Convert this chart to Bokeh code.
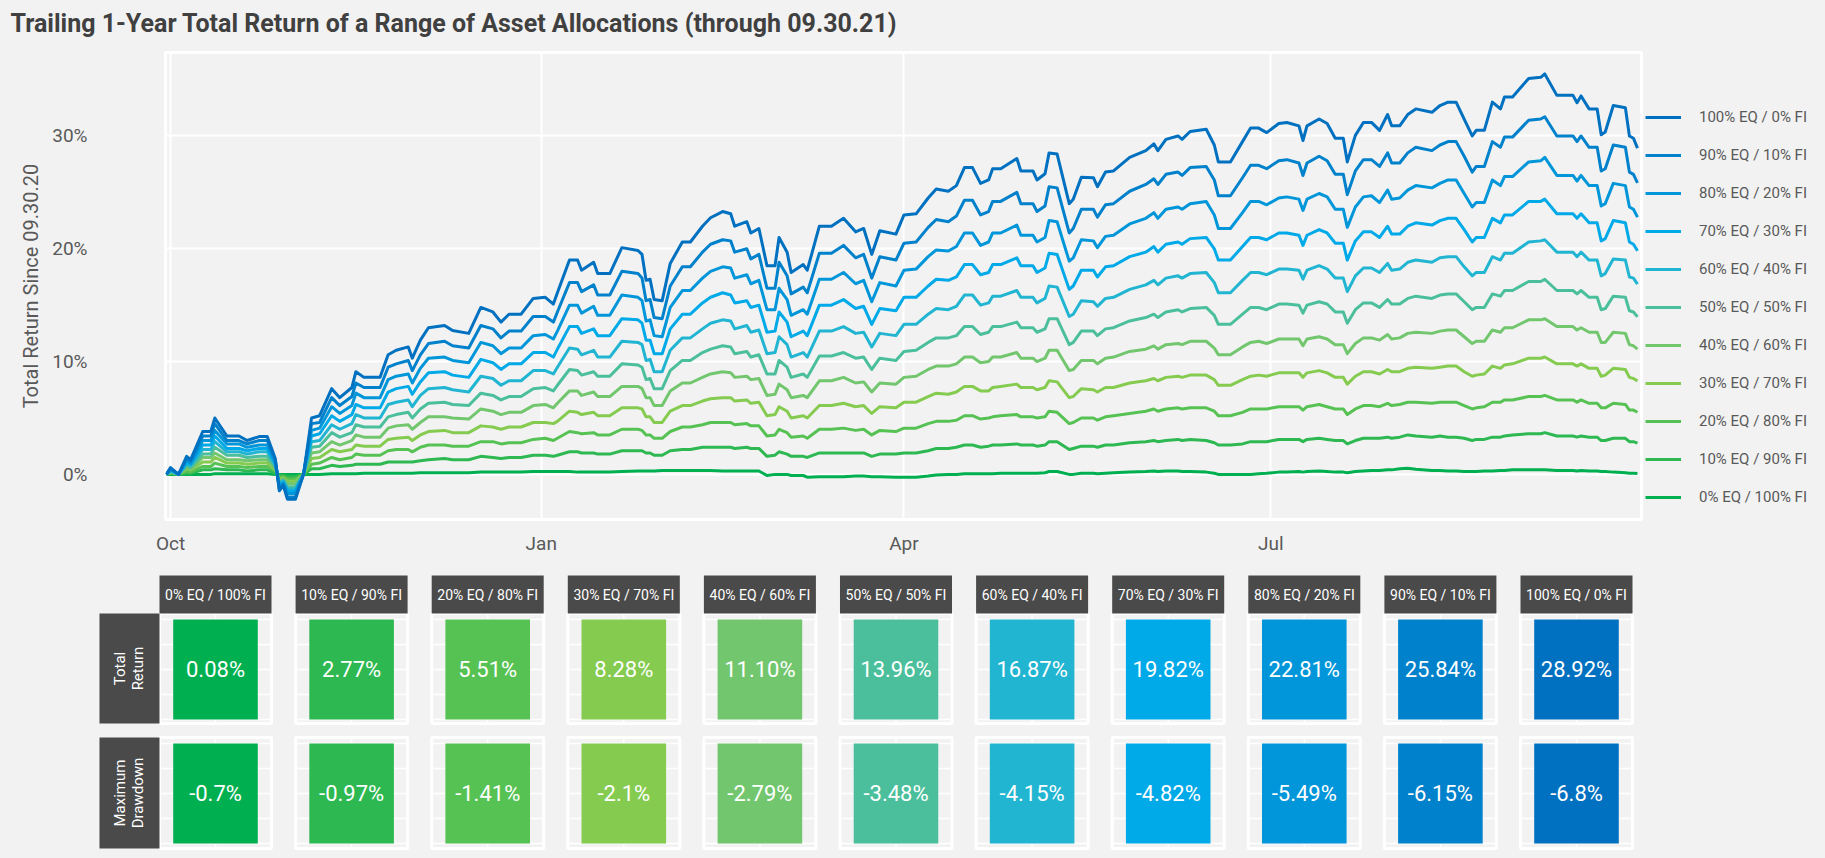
import pandas as pd
from bokeh.plotting import figure
from bokeh.layouts import column, row
from bokeh.models import (Range1d, FixedTicker, DatetimeTickFormatter, PrintfTickFormatter,
                          Legend, LegendItem)
from bokeh.core.properties import value
from bokeh.embed import file_html
from bokeh.resources import INLINE
import math

# ---------------- data ----------------
TITLE = "Trailing 1-Year Total Return of a Range of Asset Allocations (through 09.30.21)"
Y_LABEL = "Total Return Since 09.30.20"
START = "2020-10-01"
X_TICKS = ["2020-10-01", "2021-01-01", "2021-04-01", "2021-07-01"]
Y_TICKS = [0, 10, 20, 30]

DAY = [-1, 0, 2, 4, 5, 8, 10, 11, 14, 17,
       19, 22, 24, 26, 27, 28, 29, 31, 33, 35,
       37, 40, 42, 45, 46, 48, 52, 54, 56, 59,
       60, 62, 64, 68, 70, 74, 77, 80, 82, 84,
       87, 90, 93, 95, 96, 99, 101, 102, 105, 106,
       109, 112, 116, 117, 118, 119, 120, 122, 124, 127,
       129, 132, 134, 137, 139, 140, 143, 144, 146, 148,
       150, 151, 153, 154, 157, 158, 161, 164, 167, 170,
       172, 174, 176, 180, 182, 185, 188, 190, 193, 195,
       197, 199, 201, 203, 204, 206, 210, 211, 214, 215,
       217, 218, 220, 223, 224, 226, 229, 230, 232, 234,
       238, 242, 244, 245, 247, 250, 251, 253, 257, 259,
       260, 263, 266, 268, 270, 272, 275, 277, 280, 281,
       282, 285, 287, 289, 291, 292, 294, 296, 298, 300,
       302, 303, 305, 307, 309, 313, 315, 317, 319, 321,
       323, 324, 326, 328, 330, 331, 333, 337, 340, 341,
       344, 348, 349, 350, 352, 354, 355, 356, 358, 361,
       362, 363, 364]

S100 = [0.0, 0.6, 0.0, 1.6, 1.3, 3.8, 3.8, 5.0, 3.4, 3.4,
        3.0, 3.35, 3.35, 1.4, -1.45, -1.0, -2.2, -2.2, 0.0, 5.0,
        5.2, 7.6, 6.8, 7.7, 9.1, 8.6, 8.6, 10.6, 11.0, 11.3,
        10.3, 11.9, 13.0, 13.2, 12.75, 12.5, 14.8, 14.4, 13.5, 14.2,
        14.2, 15.6, 15.7, 15.1, 16.1, 19.0, 19.0, 18.1, 18.8, 17.8,
        17.8, 20.1, 19.85, 19.5, 17.2, 17.3, 15.5, 15.4, 18.7, 20.6,
        20.6, 22.0, 22.75, 23.3, 23.1, 22.0, 22.4, 21.4, 21.8, 18.5,
        18.5, 21.0, 19.7, 17.9, 18.6, 18.1, 22.0, 22.0, 22.7, 21.5,
        21.8, 19.5, 21.6, 21.3, 23.0, 23.1, 24.5, 25.3, 25.1, 25.6,
        27.2, 27.2, 25.8, 26.1, 27.1, 27.1, 28.0, 26.9, 26.9, 26.1,
        26.65, 28.5, 28.4, 24.0, 24.4, 26.35, 26.3, 25.5, 26.8, 26.9,
        28.1, 28.7, 29.3, 28.7, 29.7, 30.0, 29.7, 30.4, 30.6, 29.2,
        27.7, 27.7, 29.5, 30.7, 30.7, 30.3, 31.1, 31.2, 30.9, 29.6,
        30.9, 31.5, 31.1, 29.8, 29.8, 27.7, 30.05, 31.2, 31.2, 30.5,
        31.9, 30.9, 30.9, 31.9, 32.4, 32.1, 32.7, 33.0, 33.0, 31.5,
        30.0, 30.5, 30.5, 33.0, 32.4, 33.45, 33.45, 35.1, 35.2, 35.5,
        33.6, 33.6, 32.95, 33.55, 32.4, 32.4, 30.1, 30.35, 32.7, 32.5,
        30.0, 29.8, 28.92]

S90 = [0.0, 0.5, 0.0, 1.4, 1.2, 3.4, 3.4, 4.5, 3.0, 3.0,
       2.7, 3.0, 3.0, 1.3, -1.3, -0.9, -2.0, -2.0, 0.0, 4.5,
       4.6, 6.8, 6.1, 6.9, 8.1, 7.7, 7.7, 9.5, 9.8, 10.1,
       9.2, 10.6, 11.6, 11.8, 11.4, 11.2, 13.2, 12.9, 12.1, 12.7,
       12.7, 14.0, 14.0, 13.5, 14.4, 17.0, 17.0, 16.2, 16.8, 15.9,
       15.9, 18.0, 17.8, 17.4, 15.4, 15.5, 13.9, 13.8, 16.7, 18.4,
       18.4, 19.7, 20.4, 20.8, 20.7, 19.7, 20.0, 19.1, 19.5, 16.5,
       16.5, 18.8, 17.6, 16.0, 16.6, 16.1, 19.6, 19.6, 20.3, 19.2,
       19.5, 17.4, 19.3, 19.0, 20.5, 20.6, 21.9, 22.6, 22.4, 22.9,
       24.3, 24.3, 23.0, 23.3, 24.2, 24.2, 25.0, 24.0, 24.0, 23.3,
       23.8, 25.5, 25.4, 21.4, 21.8, 23.5, 23.5, 22.8, 23.9, 24.0,
       25.1, 25.7, 26.2, 25.7, 26.6, 26.8, 26.5, 27.2, 27.3, 26.1,
       24.7, 24.7, 26.3, 27.4, 27.4, 27.1, 27.8, 27.9, 27.6, 26.5,
       27.6, 28.2, 27.8, 26.6, 26.6, 24.8, 26.9, 27.9, 27.9, 27.3,
       28.5, 27.6, 27.6, 28.5, 29.0, 28.7, 29.2, 29.5, 29.5, 28.2,
       26.8, 27.3, 27.3, 29.5, 29.0, 29.9, 29.9, 31.4, 31.5, 31.7,
       30.0, 30.0, 29.5, 30.0, 29.0, 29.0, 26.9, 27.1, 29.2, 29.0,
       26.8, 26.6, 25.84]

S80 = [0.0, 0.5, 0.0, 1.3, 1.0, 3.0, 3.0, 3.9, 2.7, 2.7,
       2.4, 2.6, 2.6, 1.1, -1.1, -0.8, -1.7, -1.7, 0.0, 3.9,
       4.1, 6.0, 5.4, 6.1, 7.2, 6.8, 6.8, 8.4, 8.7, 8.9,
       8.1, 9.4, 10.3, 10.4, 10.1, 9.9, 11.7, 11.4, 10.7, 11.2,
       11.2, 12.3, 12.4, 12.0, 12.7, 15.0, 15.0, 14.3, 14.9, 14.1,
       14.1, 15.9, 15.7, 15.4, 13.6, 13.7, 12.3, 12.2, 14.8, 16.3,
       16.3, 17.4, 18.0, 18.4, 18.3, 17.4, 17.7, 16.9, 17.2, 14.6,
       14.6, 16.5, 15.5, 14.1, 14.6, 14.2, 17.3, 17.3, 17.9, 16.9,
       17.2, 15.3, 17.0, 16.7, 18.1, 18.2, 19.3, 19.9, 19.8, 20.2,
       21.4, 21.4, 20.3, 20.6, 21.4, 21.4, 22.1, 21.2, 21.2, 20.6,
       21.0, 22.5, 22.4, 18.9, 19.2, 20.8, 20.7, 20.1, 21.1, 21.2,
       22.2, 22.7, 23.2, 22.7, 23.5, 23.7, 23.5, 24.0, 24.2, 23.0,
       21.8, 21.8, 23.2, 24.2, 24.2, 23.9, 24.5, 24.6, 24.4, 23.4,
       24.4, 24.9, 24.6, 23.5, 23.5, 21.9, 23.7, 24.6, 24.7, 24.1,
       25.2, 24.4, 24.5, 25.2, 25.6, 25.4, 25.8, 26.1, 26.1, 24.9,
       23.7, 24.1, 24.1, 26.1, 25.6, 26.4, 26.4, 27.7, 27.8, 28.1,
       26.5, 26.5, 26.0, 26.5, 25.6, 25.6, 23.8, 24.0, 25.8, 25.6,
       23.7, 23.5, 22.81]

S70 = [0.0, 0.4, 0.0, 1.1, 0.9, 2.6, 2.6, 3.4, 2.3, 2.3,
       2.1, 2.3, 2.3, 1.0, -1.0, -0.7, -1.5, -1.5, 0.0, 3.4,
       3.6, 5.2, 4.7, 5.3, 6.2, 5.9, 5.9, 7.3, 7.6, 7.8,
       7.1, 8.2, 9.0, 9.1, 8.8, 8.6, 10.2, 9.9, 9.3, 9.8,
       9.8, 10.8, 10.8, 10.4, 11.1, 13.1, 13.1, 12.5, 12.9, 12.3,
       12.3, 13.8, 13.7, 13.4, 11.9, 11.9, 10.7, 10.7, 12.9, 14.2,
       14.2, 15.2, 15.7, 16.1, 15.9, 15.2, 15.4, 14.8, 15.0, 12.6,
       12.7, 14.4, 13.5, 12.2, 12.7, 12.3, 15.0, 15.0, 15.5, 14.7,
       14.9, 13.3, 14.7, 14.5, 15.7, 15.7, 16.7, 17.3, 17.2, 17.5,
       18.6, 18.6, 17.7, 17.9, 18.6, 18.6, 19.2, 18.5, 18.5, 17.9,
       18.3, 19.6, 19.5, 16.4, 16.7, 18.1, 18.1, 17.5, 18.4, 18.5,
       19.3, 19.7, 20.2, 19.7, 20.4, 20.6, 20.4, 20.9, 21.0, 20.0,
       19.0, 19.0, 20.2, 21.0, 21.0, 20.8, 21.4, 21.4, 21.2, 20.3,
       21.2, 21.7, 21.4, 20.5, 20.5, 19.0, 20.7, 21.5, 21.5, 21.0,
       22.0, 21.3, 21.3, 22.0, 22.3, 22.1, 22.5, 22.7, 22.7, 21.7,
       20.6, 21.0, 21.0, 22.7, 22.3, 23.0, 23.0, 24.2, 24.2, 24.4,
       23.1, 23.1, 22.7, 23.1, 22.3, 22.3, 20.7, 20.9, 22.5, 22.3,
       20.6, 20.4, 19.82]

S60 = [0.0, 0.3, 0.0, 0.9, 0.8, 2.2, 2.2, 2.9, 2.0, 2.0,
       1.8, 2.0, 2.0, 0.8, -0.8, -0.6, -1.3, -1.3, 0.0, 2.9,
       3.0, 4.4, 4.0, 4.5, 5.3, 5.0, 5.0, 6.2, 6.4, 6.6,
       6.0, 7.0, 7.6, 7.7, 7.5, 7.3, 8.7, 8.5, 7.9, 8.3,
       8.3, 9.2, 9.2, 8.9, 9.5, 11.2, 11.1, 10.6, 11.0, 10.4,
       10.4, 11.8, 11.7, 11.5, 10.1, 10.2, 9.1, 9.1, 11.0, 12.1,
       12.1, 12.9, 13.4, 13.7, 13.6, 12.9, 13.2, 12.6, 12.8, 10.7,
       10.8, 12.2, 11.5, 10.4, 10.8, 10.4, 12.7, 12.7, 13.1, 12.5,
       12.6, 11.3, 12.5, 12.3, 13.3, 13.3, 14.2, 14.7, 14.6, 14.9,
       15.9, 15.9, 15.0, 15.2, 15.8, 15.8, 16.3, 15.7, 15.7, 15.2,
       15.6, 16.7, 16.6, 14.0, 14.2, 15.4, 15.3, 14.9, 15.6, 15.7,
       16.4, 16.8, 17.2, 16.8, 17.4, 17.6, 17.4, 17.8, 17.9, 17.0,
       16.1, 16.1, 17.2, 17.9, 17.9, 17.7, 18.2, 18.2, 18.1, 17.3,
       18.1, 18.5, 18.2, 17.4, 17.4, 16.2, 17.6, 18.3, 18.3, 17.9,
       18.7, 18.1, 18.2, 18.8, 19.0, 18.8, 19.2, 19.3, 19.3, 18.4,
       17.6, 17.9, 17.9, 19.3, 19.0, 19.6, 19.6, 20.6, 20.7, 20.8,
       19.7, 19.7, 19.3, 19.7, 19.0, 19.0, 17.6, 17.8, 19.1, 19.0,
       17.5, 17.4, 16.87]

S50 = [0.0, 0.3, 0.0, 0.8, 0.6, 1.8, 1.8, 2.4, 1.7, 1.7,
       1.5, 1.6, 1.6, 0.7, -0.7, -0.5, -1.1, -1.1, 0.0, 2.4,
       2.5, 3.7, 3.3, 3.7, 4.4, 4.2, 4.2, 5.1, 5.3, 5.5,
       5.0, 5.8, 6.3, 6.4, 6.2, 6.1, 7.2, 7.0, 6.6, 6.9,
       6.9, 7.6, 7.7, 7.4, 7.9, 9.3, 9.2, 8.8, 9.1, 8.7,
       8.7, 9.8, 9.7, 9.5, 8.4, 8.5, 7.6, 7.6, 9.2, 10.1,
       10.1, 10.8, 11.1, 11.4, 11.3, 10.7, 10.9, 10.4, 10.6, 8.9,
       8.9, 10.1, 9.5, 8.6, 8.9, 8.6, 10.5, 10.5, 10.8, 10.3,
       10.4, 9.3, 10.3, 10.1, 10.9, 11.0, 11.7, 12.1, 12.1, 12.3,
       13.1, 13.1, 12.4, 12.6, 13.1, 13.1, 13.5, 13.0, 13.0, 12.6,
       12.9, 13.8, 13.8, 11.5, 11.7, 12.7, 12.7, 12.3, 12.9, 13.0,
       13.6, 13.9, 14.2, 13.9, 14.4, 14.6, 14.4, 14.7, 14.8, 14.1,
       13.3, 13.3, 14.2, 14.8, 14.8, 14.6, 15.1, 15.1, 15.0, 14.3,
       15.0, 15.3, 15.1, 14.4, 14.4, 13.4, 14.6, 15.2, 15.2, 14.8,
       15.5, 15.1, 15.1, 15.6, 15.8, 15.6, 15.9, 16.0, 16.0, 15.3,
       14.6, 14.8, 14.8, 16.0, 15.8, 16.3, 16.3, 17.1, 17.1, 17.3,
       16.3, 16.3, 16.0, 16.3, 15.7, 15.7, 14.6, 14.7, 15.8, 15.7,
       14.5, 14.4, 13.96]

S40 = [0.0, 0.2, 0.0, 0.6, 0.5, 1.5, 1.5, 1.9, 1.3, 1.3,
       1.2, 1.3, 1.3, 0.5, -0.6, -0.4, -0.8, -0.8, 0.0, 1.9,
       2.0, 2.9, 2.6, 3.0, 3.5, 3.3, 3.3, 4.1, 4.3, 4.4,
       4.0, 4.6, 5.1, 5.1, 5.0, 4.9, 5.8, 5.6, 5.3, 5.5,
       5.5, 6.1, 6.2, 5.9, 6.3, 7.4, 7.4, 7.0, 7.3, 6.9,
       6.9, 7.8, 7.8, 7.6, 6.8, 6.8, 6.1, 6.1, 7.4, 8.1,
       8.1, 8.6, 8.9, 9.1, 9.0, 8.6, 8.7, 8.4, 8.5, 7.0,
       7.1, 8.0, 7.5, 6.8, 7.0, 6.8, 8.3, 8.3, 8.6, 8.1,
       8.2, 7.3, 8.1, 8.0, 8.6, 8.7, 9.3, 9.6, 9.6, 9.8,
       10.4, 10.4, 9.9, 10.0, 10.4, 10.4, 10.8, 10.3, 10.3, 10.0,
       10.3, 11.0, 11.0, 9.2, 9.3, 10.1, 10.1, 9.8, 10.3, 10.4,
       10.9, 11.1, 11.4, 11.1, 11.5, 11.6, 11.5, 11.8, 11.8, 11.2,
       10.6, 10.6, 11.3, 11.7, 11.8, 11.6, 12.0, 12.0, 12.0, 11.4,
       12.0, 12.2, 12.0, 11.5, 11.5, 10.7, 11.6, 12.1, 12.1, 11.9,
       12.4, 12.0, 12.1, 12.5, 12.6, 12.5, 12.7, 12.8, 12.8, 12.2,
       11.6, 11.8, 11.8, 12.8, 12.6, 13.0, 13.0, 13.7, 13.7, 13.8,
       13.1, 13.1, 12.8, 13.0, 12.6, 12.6, 11.7, 11.7, 12.6, 12.5,
       11.5, 11.4, 11.10]

S30 = [0.0, 0.2, 0.0, 0.5, 0.4, 1.1, 1.1, 1.5, 1.0, 1.0,
       0.9, 1.0, 1.0, 0.4, -0.4, -0.3, -0.6, -0.6, 0.0, 1.4,
       1.5, 2.2, 2.0, 2.2, 2.6, 2.5, 2.5, 3.1, 3.2, 3.3,
       3.0, 3.5, 3.8, 3.9, 3.7, 3.7, 4.3, 4.2, 4.0, 4.2,
       4.2, 4.6, 4.6, 4.5, 4.7, 5.6, 5.5, 5.3, 5.5, 5.2,
       5.2, 5.9, 5.9, 5.8, 5.1, 5.1, 4.6, 4.6, 5.6, 6.1,
       6.1, 6.5, 6.7, 6.8, 6.8, 6.5, 6.6, 6.3, 6.4, 5.2,
       5.3, 6.0, 5.6, 5.0, 5.2, 5.0, 6.1, 6.1, 6.3, 6.0,
       6.1, 5.4, 6.0, 5.9, 6.4, 6.4, 6.9, 7.2, 7.1, 7.3,
       7.8, 7.8, 7.4, 7.4, 7.7, 7.8, 8.0, 7.7, 7.7, 7.5,
       7.7, 8.3, 8.2, 6.8, 6.9, 7.6, 7.5, 7.3, 7.7, 7.7,
       8.1, 8.3, 8.5, 8.3, 8.6, 8.7, 8.6, 8.8, 8.8, 8.4,
       7.9, 7.9, 8.4, 8.7, 8.8, 8.7, 9.0, 9.0, 9.0, 8.6,
       9.0, 9.2, 9.0, 8.6, 8.6, 8.0, 8.7, 9.1, 9.1, 8.9,
       9.3, 9.1, 9.1, 9.4, 9.5, 9.4, 9.5, 9.6, 9.6, 9.1,
       8.7, 8.8, 8.9, 9.6, 9.4, 9.7, 9.8, 10.3, 10.3, 10.4,
       9.8, 9.8, 9.6, 9.8, 9.4, 9.4, 8.7, 8.8, 9.4, 9.3,
       8.6, 8.5, 8.28]

S20 = [0.0, 0.1, 0.0, 0.3, 0.2, 0.7, 0.7, 1.0, 0.7, 0.7,
       0.6, 0.7, 0.7, 0.3, -0.3, -0.2, -0.4, -0.4, 0.0, 0.9,
       1.0, 1.5, 1.3, 1.5, 1.8, 1.7, 1.7, 2.1, 2.2, 2.2,
       2.0, 2.4, 2.6, 2.6, 2.5, 2.5, 2.9, 2.9, 2.7, 2.8,
       2.8, 3.1, 3.2, 3.0, 3.2, 3.8, 3.7, 3.6, 3.7, 3.5,
       3.5, 4.0, 4.0, 3.9, 3.5, 3.5, 3.2, 3.2, 3.8, 4.2,
       4.2, 4.4, 4.6, 4.6, 4.6, 4.4, 4.5, 4.3, 4.3, 3.4,
       3.5, 4.0, 3.7, 3.3, 3.4, 3.2, 4.0, 4.0, 4.1, 3.9,
       4.0, 3.5, 3.9, 3.8, 4.1, 4.1, 4.5, 4.7, 4.7, 4.8,
       5.2, 5.2, 4.9, 5.0, 5.1, 5.2, 5.3, 5.1, 5.1, 5.0,
       5.1, 5.6, 5.5, 4.5, 4.6, 5.0, 5.0, 4.8, 5.1, 5.2,
       5.4, 5.6, 5.8, 5.6, 5.8, 5.9, 5.8, 5.9, 5.9, 5.6,
       5.2, 5.2, 5.5, 5.8, 5.8, 5.8, 6.0, 6.0, 6.0, 5.7,
       6.0, 6.2, 6.0, 5.8, 5.8, 5.3, 5.8, 6.1, 6.1, 6.0,
       6.3, 6.1, 6.2, 6.4, 6.4, 6.3, 6.4, 6.4, 6.4, 6.1,
       5.8, 5.9, 6.0, 6.4, 6.4, 6.6, 6.6, 6.9, 6.9, 7.0,
       6.6, 6.6, 6.4, 6.6, 6.3, 6.3, 5.9, 5.9, 6.3, 6.2,
       5.7, 5.7, 5.51]

S10 = [0.0, 0.1, 0.0, 0.1, 0.1, 0.4, 0.4, 0.5, 0.4, 0.4,
       0.3, 0.4, 0.4, 0.1, -0.1, -0.1, -0.2, -0.2, 0.0, 0.5,
       0.5, 0.8, 0.7, 0.8, 0.9, 0.9, 0.9, 1.1, 1.1, 1.1,
       1.1, 1.2, 1.3, 1.4, 1.3, 1.3, 1.6, 1.5, 1.4, 1.5,
       1.5, 1.7, 1.7, 1.6, 1.7, 2.0, 2.0, 1.9, 1.9, 1.8,
       1.8, 2.1, 2.1, 2.1, 1.9, 1.9, 1.7, 1.7, 2.1, 2.2,
       2.2, 2.4, 2.4, 2.4, 2.4, 2.3, 2.4, 2.3, 2.3, 1.6,
       1.7, 2.0, 1.8, 1.6, 1.6, 1.5, 1.9, 1.9, 1.9, 1.9,
       1.9, 1.6, 1.8, 1.8, 1.9, 1.9, 2.1, 2.3, 2.3, 2.4,
       2.6, 2.6, 2.4, 2.5, 2.6, 2.6, 2.7, 2.6, 2.6, 2.5,
       2.6, 2.9, 2.9, 2.2, 2.3, 2.5, 2.5, 2.4, 2.6, 2.6,
       2.8, 2.9, 3.0, 2.9, 3.0, 3.1, 3.0, 3.1, 3.0, 2.8,
       2.6, 2.6, 2.7, 2.9, 2.9, 2.9, 3.1, 3.1, 3.1, 2.9,
       3.1, 3.2, 3.1, 3.0, 3.0, 2.7, 3.0, 3.2, 3.2, 3.2,
       3.3, 3.2, 3.3, 3.5, 3.4, 3.3, 3.4, 3.3, 3.3, 3.2,
       3.0, 3.1, 3.1, 3.3, 3.3, 3.4, 3.5, 3.6, 3.6, 3.7,
       3.4, 3.4, 3.3, 3.4, 3.3, 3.3, 3.0, 3.0, 3.2, 3.2,
       2.9, 2.9, 2.77]

S0 = [0.0, 0.0, 0.0, 0.0, 0.0, 0.0, 0.0, 0.05, 0.05, 0.05,
      0.05, 0.05, 0.05, 0.0, 0.0, 0.0, 0.0, 0.0, 0.0, 0.0,
      0.0, 0.05, 0.05, 0.05, 0.05, 0.1, 0.1, 0.1, 0.1, 0.1,
      0.1, 0.15, 0.15, 0.15, 0.15, 0.15, 0.2, 0.2, 0.2, 0.2,
      0.2, 0.25, 0.25, 0.25, 0.25, 0.25, 0.2, 0.2, 0.2, 0.2,
      0.2, 0.25, 0.3, 0.3, 0.3, 0.3, 0.3, 0.35, 0.35, 0.35,
      0.35, 0.35, 0.35, 0.3, 0.3, 0.3, 0.3, 0.3, 0.3, -0.1,
      0.0, 0.0, 0.0, -0.1, -0.1, -0.25, -0.2, -0.2, -0.2, -0.15,
      -0.15, -0.2, -0.2, -0.25, -0.25, -0.25, -0.15, -0.05, 0.0, 0.0,
      0.05, 0.05, 0.05, 0.05, 0.05, 0.1, 0.1, 0.1, 0.1, 0.1,
      0.15, 0.25, 0.25, 0.0, 0.0, 0.1, 0.1, 0.05, 0.1, 0.15,
      0.2, 0.25, 0.3, 0.25, 0.3, 0.3, 0.25, 0.25, 0.2, 0.1,
      0.0, 0.0, 0.0, 0.0, 0.05, 0.1, 0.2, 0.2, 0.25, 0.2,
      0.25, 0.3, 0.25, 0.2, 0.2, 0.15, 0.25, 0.3, 0.35, 0.35,
      0.4, 0.4, 0.5, 0.55, 0.45, 0.35, 0.35, 0.3, 0.3, 0.25,
      0.25, 0.25, 0.3, 0.3, 0.35, 0.35, 0.4, 0.4, 0.4, 0.4,
      0.35, 0.35, 0.3, 0.35, 0.3, 0.3, 0.25, 0.25, 0.2, 0.15,
      0.1, 0.1, 0.08]

ALLOC = ["0% EQ / 100% FI", "10% EQ / 90% FI", "20% EQ / 80% FI", "30% EQ / 70% FI",
         "40% EQ / 60% FI", "50% EQ / 50% FI", "60% EQ / 40% FI", "70% EQ / 30% FI",
         "80% EQ / 20% FI", "90% EQ / 10% FI", "100% EQ / 0% FI"]
SERIES = [S0, S10, S20, S30, S40, S50, S60, S70, S80, S90, S100]
TOTAL_RETURN = [0.08, 2.77, 5.51, 8.28, 11.10, 13.96, 16.87, 19.82, 22.81, 25.84, 28.92]
MAX_DRAWDOWN = [-0.7, -0.97, -1.41, -2.1, -2.79, -3.48, -4.15, -4.82, -5.49, -6.15, -6.8]
ROW_LABELS = ["Total\nReturn", "Maximum\nDrawdown"]
COLORS = ["#00B050", "#2DB851", "#57C254", "#84CB50", "#72C66E", "#4BBF9C",
          "#21B5D2", "#00A9E7", "#0096D9", "#0081CB", "#0070C0"]

# ---------------- styling ----------------
FONT = "Roboto"
BG = "#f2f2f2"
DARK = "#4a4a4a"
GREY_TXT = "#595959"
PAGE_W = 1817

start = pd.Timestamp(START)
dates = [start + pd.Timedelta(days=d) for d in DAY]

def ms(ts):
    return pd.Timestamp(ts).value / 1e6

# ---------------- title strip ----------------
pT = figure(width=PAGE_W, height=48, frame_width=PAGE_W, frame_height=48,
            x_range=Range1d(0, PAGE_W), y_range=Range1d(48, 0), min_border=0,
            min_border_left=0, min_border_right=0, min_border_top=0, min_border_bottom=0,
            output_backend="svg", toolbar_location=None)
pT.axis.visible = False
pT.grid.visible = False
pT.outline_line_color = None
pT.background_fill_color = BG
pT.border_fill_color = BG
pT.text(x=[10], y=[23], text=[TITLE], text_baseline="alphabetic", text_align="left",
        text_font=value(FONT), text_font_size="25px", text_font_style="bold", text_color="#404040")

# ---------------- line chart ----------------
pA = figure(width=PAGE_W, height=510, frame_width=1476, frame_height=467,
            x_axis_type="datetime",
            x_range=Range1d(ms(start - pd.Timedelta(days=1.24)), ms(start + pd.Timedelta(days=365))),
            y_range=Range1d(-4.0, 37.4),
            min_border_left=165, min_border_right=PAGE_W - 165 - 1476, min_border_top=4, min_border_bottom=39,
            output_backend="svg", toolbar_location=None)
pA.background_fill_color = BG
pA.border_fill_color = BG
pA.outline_line_color = "white"
pA.outline_line_width = 3

xt = FixedTicker(ticks=[ms(t) for t in X_TICKS])
pA.xaxis.ticker = xt
pA.xgrid.ticker = xt
pA.xaxis.formatter = DatetimeTickFormatter(years="%b", months="%b", days="%b", hours="%b",
                                           hourmin="%b", minutes="%b", seconds="%b",
                                           minsec="%b", milliseconds="%b", microseconds="%b")
yt = FixedTicker(ticks=Y_TICKS)
pA.yaxis.ticker = yt
pA.ygrid.ticker = yt
pA.yaxis.formatter = PrintfTickFormatter(format="%d%%")

for ax in (pA.xaxis[0], pA.yaxis[0]):
    ax.axis_line_color = None
    ax.major_tick_line_color = None
    ax.minor_tick_line_color = None
    ax.major_label_text_font = FONT
    ax.major_label_text_font_size = "19px"
    ax.major_label_text_color = GREY_TXT
pA.yaxis.major_label_standoff = 72
pA.xaxis.major_label_standoff = 6
pA.yaxis.axis_label = Y_LABEL
pA.yaxis.axis_label_text_font = FONT
pA.yaxis.axis_label_text_font_size = "20px"
pA.yaxis.axis_label_text_font_style = "normal"
pA.yaxis.axis_label_text_color = GREY_TXT
pA.yaxis.axis_label_standoff = 6

pA.xgrid.grid_line_color = "white"
pA.xgrid.grid_line_width = 2
pA.ygrid.grid_line_color = "white"
pA.ygrid.grid_line_width = 2

renderers = []
for name, ser, col in zip(ALLOC, SERIES, COLORS):
    r = pA.line(x=dates, y=ser, line_color=col, line_width=3, line_join="round")
    renderers.append((name, r))

items = [LegendItem(label=n, renderers=[r]) for n, r in reversed(renderers)]
legend = Legend(items=items, location=(4, 12), orientation="vertical",
                glyph_width=36, glyph_height=20, label_height=20, spacing=18,
                label_standoff=18, padding=0, margin=0,
                border_line_color=None, background_fill_alpha=0,
                label_text_font=FONT, label_text_font_size="15px", label_text_color=GREY_TXT)
pA.add_layout(legend, "right")

# ---------------- table ----------------
PITCH = 136.1
COL0_X = 215
pB = figure(width=PAGE_W, height=292, frame_width=PAGE_W, frame_height=292,
            x_range=Range1d(-COL0_X / PITCH, (PAGE_W - COL0_X) / PITCH), y_range=Range1d(850, 558),
            min_border=0, min_border_left=0, min_border_right=0, min_border_top=0, min_border_bottom=0,
            output_backend="svg", toolbar_location=None)
pB.axis.visible = False
pB.grid.visible = False
pB.outline_line_color = None
pB.background_fill_color = BG
pB.border_fill_color = BG

cols = list(range(len(ALLOC)))
PANEL_W = 0.823
CELL_W = 0.6215
HEADER_Y, HEADER_H = 594, 38
PANEL_Y = [668, 792.5]
PANEL_H = [110, 111]
CELL_Y = [669, 793]
CELL_H = 100

gx0, gx1, gy0, gy1 = [], [], [], []
for i in cols:
    for r in range(2):
        top = CELL_Y[r] - CELL_H / 2
        for k in range(5):
            yy = top + 25 * k
            gx0.append(i - PANEL_W / 2); gx1.append(i + PANEL_W / 2); gy0.append(yy); gy1.append(yy)
        gx0.append(i); gx1.append(i)
        gy0.append(PANEL_Y[r] - PANEL_H[r] / 2); gy1.append(PANEL_Y[r] + PANEL_H[r] / 2)
pB.segment(x0=gx0, y0=gy0, x1=gx1, y1=gy1, line_color="white", line_width=1.5)

for r in range(2):
    pB.rect(x=cols, y=PANEL_Y[r], width=PANEL_W, height=PANEL_H[r],
            fill_color=None, line_color="white", line_width=3)

pB.rect(x=cols, y=HEADER_Y, width=PANEL_W, height=HEADER_H, fill_color=DARK, line_color=None)
pB.text(x=cols, y=HEADER_Y, text=ALLOC, text_align="center", text_baseline="middle",
        text_color="white", text_font=value(FONT), text_font_size="14px")

pB.rect(x=-0.632, y=PANEL_Y, width=0.441, height=PANEL_H, fill_color=DARK, line_color=None)
pB.text(x=[-0.632, -0.632], y=PANEL_Y, text=ROW_LABELS, angle=math.pi / 2,
        text_align="center", text_baseline="middle", text_color="white",
        text_font=value(FONT), text_font_size="15px", text_line_height=1.0)

tr_txt = [f"{v:.2f}%" for v in TOTAL_RETURN]
dd_txt = [f"{v:g}%" for v in MAX_DRAWDOWN]
for r, txt in enumerate([tr_txt, dd_txt]):
    pB.rect(x=cols, y=CELL_Y[r], width=CELL_W, height=CELL_H, fill_color=COLORS, line_color=None)
    pB.text(x=cols, y=CELL_Y[r], text=txt, text_align="center", text_baseline="middle",
            text_color="white", text_font=value(FONT), text_font_size="22px")

layout = column(row(pT), pA, row(pB), spacing=0)
layout.styles = {"background-color": BG}

html = file_html(layout, INLINE, title="Trailing 1-Year Total Return")
html = html.replace("</head>", "<style>html, body { background: #f2f2f2; }</style></head>", 1)
open("out.html", "w").write(html)
